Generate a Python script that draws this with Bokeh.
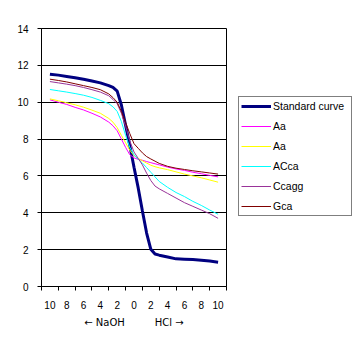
from bokeh.plotting import figure
from bokeh.layouts import row
from bokeh.models import FixedTicker, Legend, LegendItem
from bokeh.embed import file_html
from bokeh.resources import INLINE

# volume added (ml); negative = NaOH side, positive = HCl side
ml_added = [-10, -9, -8, -7, -6, -5, -4, -3, -2.5, -2, -1.5, -1, -0.5, 0,
            0.5, 1, 1.5, 2, 2.5, 3, 4, 5, 6, 7, 8, 9, 10]

standard_curve = [11.52, 11.47, 11.40, 11.33, 11.25, 11.15, 11.05, 10.90, 10.80, 10.60, 9.85, 8.75,
                  7.65, 6.47, 5.35, 4.10, 2.90, 2.02, 1.76, 1.70, 1.60, 1.50, 1.48, 1.46, 1.43, 1.38, 1.32]
aa_magenta = [10.13, 10.00, 9.88, 9.72, 9.58, 9.40, 9.20, 8.92, 8.72, 8.45, 8.00, 7.55,
              7.15, 6.98, 6.90, 6.85, 6.78, 6.72, 6.66, 6.60, 6.48, 6.38, 6.30, 6.20, 6.12, 6.03, 5.95]
aa_yellow = [10.18, 10.08, 9.97, 9.86, 9.73, 9.57, 9.40, 9.12, 8.92, 8.62, 8.20, 7.80,
             7.40, 7.10, 6.95, 6.82, 6.70, 6.58, 6.50, 6.44, 6.34, 6.22, 6.10, 6.00, 5.90, 5.78, 5.66]
acca = [10.69, 10.62, 10.55, 10.47, 10.38, 10.26, 10.10, 9.92, 9.75, 9.50, 8.95, 8.20,
        7.55, 7.15, 6.90, 6.70, 6.45, 6.20, 5.95, 5.70, 5.38, 5.10, 4.88, 4.62, 4.40, 4.15, 3.92]
ccagg = [11.12, 11.05, 10.98, 10.90, 10.80, 10.68, 10.55, 10.35, 10.15, 9.92, 9.40, 8.70,
         7.90, 7.30, 6.95, 6.60, 6.15, 5.75, 5.45, 5.30, 5.05, 4.80, 4.55, 4.35, 4.15, 3.95, 3.70]
gca = [11.25, 11.18, 11.10, 11.00, 10.90, 10.80, 10.68, 10.45, 10.25, 10.00, 9.50, 8.90,
       8.30, 7.75, 7.50, 7.25, 7.05, 6.92, 6.80, 6.68, 6.52, 6.42, 6.35, 6.28, 6.22, 6.16, 6.10]

series_names = ["Standard curve", "Aa", "Aa", "ACca", "Ccagg", "Gca"]
series_values = [standard_curve, aa_magenta, aa_yellow, acca, ccagg, gca]
series_colors = ["#000080", "#FF00FF", "#FFFF00", "#00FFFF", "#993399", "#800000"]
series_widths = [3, 1, 1, 1, 1, 1]

x_tick_values = [-10, -8, -6, -4, -2, 0, 2, 4, 6, 8, 10]
x_tick_labels = ["10", "8", "6", "4", "2", "0", "2", "4", "6", "8", "10"]
x_boundaries = [-11, -9, -7, -5, -3, -1, 1, 3, 5, 7, 9, 11]
y_ticks = [0, 2, 4, 6, 8, 10, 12, 14]

FONT = "Liberation Sans"

p = figure(width=227, height=352, output_backend="svg", toolbar_location=None,
           x_range=(-11, 11), y_range=(0, 14),
           min_border_left=41, min_border_right=1, min_border_top=28, min_border_bottom=66)
p.background_fill_color = "white"
p.border_fill_color = "white"
p.outline_line_color = "black"
p.outline_line_width = 1

# grid
p.xgrid.grid_line_color = None
p.ygrid.grid_line_color = "#000000"
p.ygrid.grid_line_width = 1
p.ygrid.ticker = FixedTicker(ticks=y_ticks)

# y axis
p.yaxis.ticker = FixedTicker(ticks=y_ticks)
p.yaxis.axis_line_color = "black"
p.yaxis.major_tick_out = 4
p.yaxis.major_tick_in = 0
p.yaxis.minor_tick_line_color = None
p.yaxis.major_label_standoff = 9
p.yaxis.major_label_text_font = FONT
p.yaxis.major_label_text_font_size = "10px"
p.yaxis.major_label_text_color = "black"

# x axis
p.xaxis.ticker = FixedTicker(ticks=x_tick_values, minor_ticks=x_boundaries)
p.xaxis.major_label_overrides = {v: lab for v, lab in zip(x_tick_values, x_tick_labels)}
p.xaxis.axis_line_color = "black"
p.xaxis.major_tick_out = 0
p.xaxis.major_tick_in = 0
p.xaxis.minor_tick_out = 4
p.xaxis.minor_tick_in = 0
p.xaxis.minor_tick_line_color = "black"
p.xaxis.major_label_standoff = 10
p.xaxis.major_label_text_font = FONT
p.xaxis.major_label_text_font_size = "10px"
p.xaxis.major_label_text_color = "black"
p.xaxis.axis_label = "\u2190 NaOH\u2003\u2003\u2003HCl \u2192"
p.xaxis.axis_label_text_font = "DejaVu Sans"
p.xaxis.axis_label_text_font_size = "10px"
p.xaxis.axis_label_text_font_style = "normal"
p.xaxis.axis_label_text_color = "black"
p.xaxis.axis_label_standoff = 5

for vals, col, w in zip(series_values, series_colors, series_widths):
    p.line(ml_added, vals, line_color=col, line_width=w)

# legend panel to the right of the plot
lp = figure(width=133, height=352, output_backend="svg", toolbar_location=None,
            x_range=(0, 1), y_range=(0, 1),
            min_border_left=0, min_border_right=0, min_border_top=0, min_border_bottom=0)
lp.axis.visible = False
lp.grid.visible = False
lp.outline_line_color = None
lp.background_fill_color = "white"
lp.border_fill_color = "white"

items = []
for name, col, w in zip(series_names, series_colors, series_widths):
    # proxy renderers placed outside the visible range, used only for the legend swatches
    r = lp.line([5, 6], [5, 6], line_color=col, line_width=w)
    items.append(LegendItem(label=name, renderers=[r]))

legend = Legend(items=items, location=(11, 70))
legend.border_line_color = "black"
legend.border_line_width = 1
legend.background_fill_color = "white"
legend.background_fill_alpha = 1
legend.padding = 2
legend.margin = 0
legend.spacing = 6
legend.glyph_height = 14
legend.label_height = 14
legend.glyph_width = 30
legend.label_width = 76
legend.label_standoff = 2
legend.label_text_font = FONT
legend.label_text_font_size = "10.5px"
legend.label_text_color = "black"
lp.add_layout(legend, "center")

layout = row(p, lp)
open("out.html", "w").write(file_html(layout, INLINE))
